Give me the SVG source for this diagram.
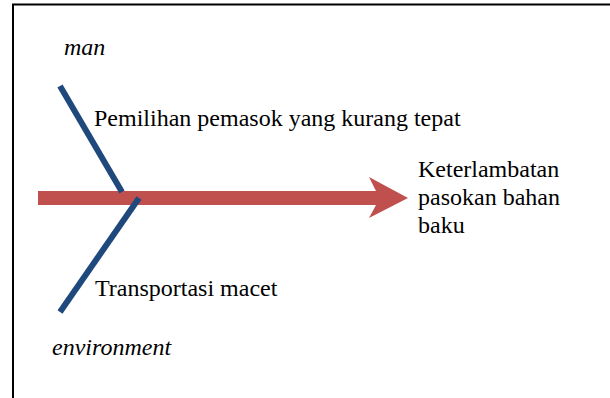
<svg xmlns="http://www.w3.org/2000/svg" width="610" height="398" viewBox="0 0 610 398">
<style>
.t{font-family:"Liberation Serif","Times New Roman",serif;font-size:24px;fill:#000}
.i{font-style:italic}
.bone{stroke:#1F497D;stroke-width:6;fill:none}
</style>
<rect width="610" height="398" fill="#fff"/>
<g id="frame"><path d="M13,398 V4.5 H610" fill="none" stroke="#000" stroke-width="2"/></g>
<g id="connectors">
<path id="spine" d="M38,191 H376 L369,177 L408,198 L369,218 L376,205 H38 Z" fill="#C0504D"/>
<line class="bone" x1="60" y1="86" x2="122" y2="192"/>
<line class="bone" x1="139" y1="198" x2="60" y2="312"/>
</g>
<g id="man"><text class="t i" x="64" y="55">man</text></g>
<g id="cause1"><text class="t" x="94" y="126">Pemilihan pemasok yang kurang tepat</text></g>
<g id="effect"><text class="t" x="418" y="177">Keterlambatan</text><text class="t" x="418" y="205">pasokan bahan</text><text class="t" x="418" y="233">baku</text></g>
<g id="cause2"><text class="t" x="95" y="296">Transportasi macet</text></g>
<g id="environment"><text class="t i" x="52" y="355">environment</text></g>
</svg>
